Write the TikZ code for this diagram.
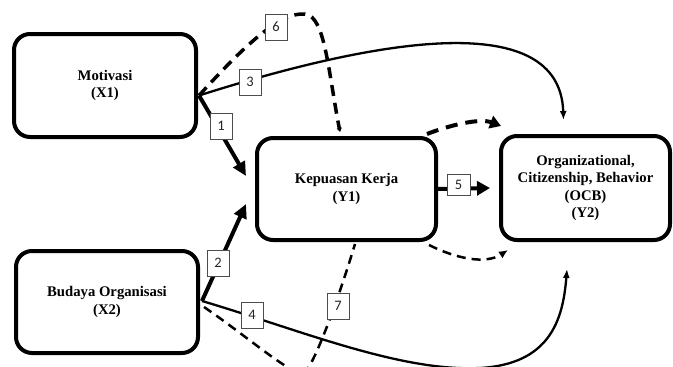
\documentclass[tikz,border=0pt]{standalone}
\usepackage{fontspec}
\setmainfont{Liberation Serif}
\newfontfamily\lblfont{Carlito}
\usetikzlibrary{arrows.meta,calc}
\begin{document}
\begin{tikzpicture}[x=1pt,y=-1pt,
  box/.style={draw,line width=4pt,rounded corners=16pt,align=center,inner sep=0pt,
    font=\fontsize{14.7}{17.5}\selectfont\bfseries},
  lbl/.style={draw=black!70,fill=white,line width=0.8pt,minimum width=22pt,minimum height=26pt,
    inner sep=0pt,font=\lblfont\fontsize{14.5}{14.5}\selectfont,text=black!85},
  thickarr/.style={line width=4pt,-{Triangle[length=14pt,width=13pt]}},
  thinarr/.style={line width=2.3pt,-{Latex[length=9pt,width=7pt]}},
  bigdash/.style={line width=3.5pt,dash pattern=on 11pt off 7pt},
  smalldash/.style={line width=2.5pt,dash pattern=on 9pt off 6pt}
]
\useasboundingbox (0,0) rectangle (673,367);

% boxes
\node[box,minimum width=182pt,minimum height=103pt] (x1) at (105,85.5) {Motivasi\\(X1)};
\node[box,minimum width=182pt,minimum height=102pt] (x2) at (107,302) {Budaya Organisasi\\(X2)};
\node[box,minimum width=179pt,minimum height=102pt] (y1) at (346.5,189) {Kepuasan Kerja\\(Y1)};
\node[box,minimum width=169pt,minimum height=104pt] (y2) at (585.5,188)
  {Organizational,\\Citizenship, Behavior\\(OCB)\\(Y2)};

% start points
\coordinate (s1) at ($(x1.east)+(1,10)$);
\coordinate (s2) at ($(x2.east)+(2,-1)$);

% 1 and 2
\draw[thickarr] (s1) -- ($(y1.north west)+(-9,40)$);
\draw[thickarr] (s2) -- ($(y1.south west)+(-9,-38)$);
% 5
\draw[line width=4pt,-{Triangle[length=13pt,width=14pt]}] (y1.east) -- ($(y2.west)+(-9,0)$);
% 3
\draw[thinarr] (s1) .. controls (380,38) and (560,8) .. ($(y2.north)+(-22,-14)$);
% 4
\draw[thinarr] (s2) .. controls (300,330) and (400,372) .. (480,368)
  .. controls (550,364) and (563,320) .. ($(y2.south)+(-18.5,27)$);
% 6
\draw[bigdash,-{Triangle[length=4pt,width=5pt]}] (s1) .. controls (245,45) and (280,12) .. (305,14)
  .. controls (325,16) and (328,70) .. ($(y1.north)+(-6.5,-4)$);
\draw[line width=4pt,dash pattern=on 12pt off 8pt,-{Triangle[length=11pt,width=13pt]}]
  ($(y1.north east)+(-11,-2)$) .. controls (450,125) and (480,118) .. ($(y2.north west)+(2,-8)$);
% 7
\draw[smalldash] ($(x2.east)+(4,5)$) .. controls (245,335) and (285,370) .. (302,374)
  .. controls (310,375) and (335,310) .. ($(y1.south)+(8.5,2)$);
\draw[smalldash,-{Latex[length=9pt,width=8pt]}] ($(y1.south east)+(-9,3)$)
  .. controls (455,258) and (485,265) .. ($(y2.south west)+(9,8)$);

% labels
\node[lbl] (l1) at (221,126) {1};
\node[lbl] (l2) at (218,263) {2};
\node[lbl] (l3) at (250,82) {3};
\node[lbl] (l4) at (252,315) {4};
\node[lbl,minimum height=21pt,minimum width=23pt] (l5) at (458.5,184.5) {5};
\node[lbl] (l6) at (276,27) {6};
\node[lbl] (l7) at (338,306) {7};
\end{tikzpicture}
\end{document}
